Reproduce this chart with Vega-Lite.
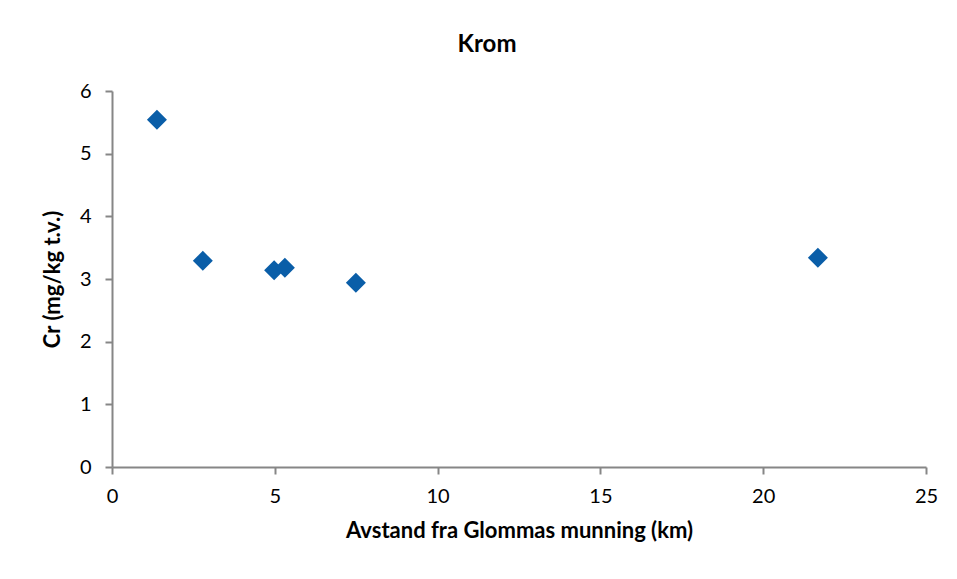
{
  "$schema": "https://vega.github.io/schema/vega-lite/v6.json",
  "width": 814,
  "height": 376,
  "autosize": {"type": "none"},
  "padding": {"left": 112, "top": 91, "right": 31, "bottom": 112},
  "background": "white",
  "title": {
    "text": "Krom",
    "font": "Lato",
    "fontSize": 24,
    "fontWeight": "bold",
    "color": "#000000",
    "anchor": "middle",
    "dx": -32,
    "offset": 24
  },
  "config": {
    "view": {"stroke": null},
    "font": "Lato"
  },
  "data": {
    "values": [
      {"avstand": 1.38, "cr": 5.54},
      {"avstand": 2.79, "cr": 3.29},
      {"avstand": 4.98, "cr": 3.14},
      {"avstand": 5.31, "cr": 3.18},
      {"avstand": 7.49, "cr": 2.94},
      {"avstand": 21.68, "cr": 3.34}
    ]
  },
  "mark": {"type": "point", "shape": "diamond", "filled": true, "size": 400, "color": "#0a5ea8", "opacity": 1},
  "encoding": {
    "x": {
      "field": "avstand",
      "type": "quantitative",
      "scale": {"domain": [0, 25], "nice": false, "zero": true},
      "axis": {
        "title": "Avstand fra Glommas munning (km)",
        "values": [0, 5, 10, 15, 20, 25],
        "grid": false,
        "domainColor": "#868686",
        "domainWidth": 2,
        "tickColor": "#868686",
        "tickWidth": 2,
        "tickSize": 7,
        "labelFont": "Lato",
        "labelFontSize": 20,
        "labelColor": "#000000",
        "labelPadding": 12,
        "labelFlush": false,
        "titleFont": "Lato",
        "titleFontSize": 22,
        "titleFontWeight": "bold",
        "titleColor": "#000000",
        "titlePadding": 14
      }
    },
    "y": {
      "field": "cr",
      "type": "quantitative",
      "scale": {"domain": [0, 6], "nice": false},
      "axis": {
        "title": "Cr (mg/kg t.v.)",
        "values": [0, 1, 2, 3, 4, 5, 6],
        "grid": false,
        "domainColor": "#868686",
        "domainWidth": 2,
        "tickColor": "#868686",
        "tickWidth": 2,
        "tickSize": 7,
        "labelFont": "Lato",
        "labelFontSize": 20,
        "labelColor": "#000000",
        "labelPadding": 14,
        "labelFlush": false,
        "titleFont": "Lato",
        "titleFontSize": 22,
        "titleFontWeight": "bold",
        "titleColor": "#000000",
        "titlePadding": 15
      }
    }
  }
}
